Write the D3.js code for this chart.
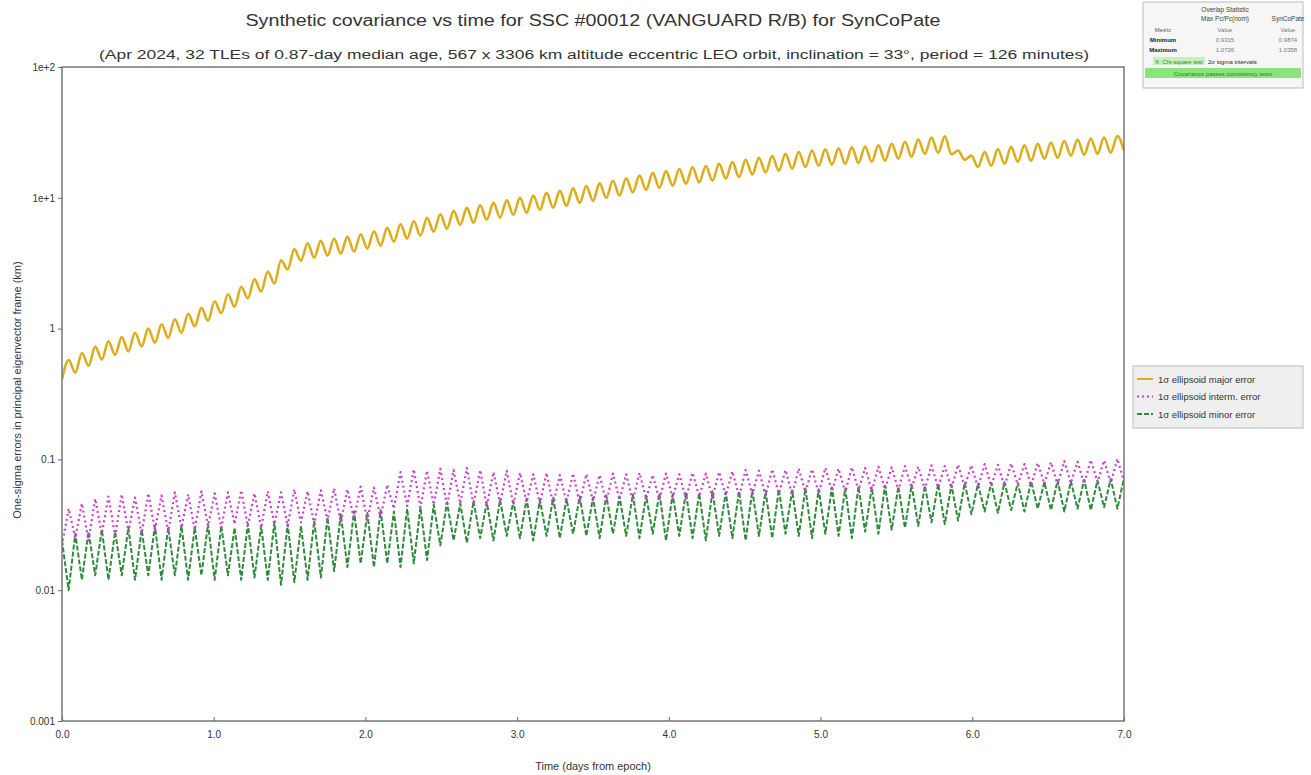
<!DOCTYPE html>
<html>
<head>
<meta charset="utf-8">
<script src="https://cdn.jsdelivr.net/npm/d3@7"></script>
<style>
  body { margin: 0; background: #fff; }
  svg { font-family: "Liberation Sans", Arial, sans-serif; }
  .axis text { fill: #333; font-size: 10px; }
  .axis path, .axis line { stroke: #666; }
</style>
</head>
<body>
<div id="chart"></div>
<script>
/* Synthetic covariance vs time — log-scale line chart */

const PERIOD_DAYS = 0.0875;   // 126 minute orbit

const xTicks      = [0, 1, 2, 3, 4, 5, 6, 7];
const yTicks      = [0.001, 0.01, 0.1, 1, 10, 100];
const yTickLabels = ["0.001", "0.01", "0.1", "1", "1e+1", "1e+2"];

// major error: value at start of each orbit (81) and at mid orbit (80)
const majorLo = [
  0.41, 0.46, 0.52, 0.58, 0.63, 0.67, 0.73, 0.78, 0.85, 0.93,
  1.04, 1.15, 1.31, 1.47, 1.70, 1.92, 2.21, 2.83, 3.31, 3.49,
  3.61, 3.74, 3.88, 4.09, 4.31, 4.62, 4.87, 5.13, 5.51, 5.80,
  6.23, 6.45, 6.80, 7.05, 7.42, 7.70, 8.10, 8.40, 8.70, 9.14,
  9.48, 10.0, 10.4, 11.0, 11.5, 11.9, 12.4, 12.8, 13.1, 13.5,
  14.0, 14.4, 15.1, 15.6, 16.1, 16.7, 17.2, 17.6, 17.9, 18.2,
  18.5, 18.9, 19.2, 19.9, 20.6, 21.7, 22.1, 21.5, 19.5, 17.2,
  17.6, 18.2, 18.9, 19.2, 19.9, 20.2, 21.0, 21.3, 21.7, 22.1,
  22.9
];
const majorHi = [
  0.575, 0.65, 0.73, 0.80, 0.86, 0.93, 1.00, 1.08, 1.18, 1.30,
  1.44, 1.62, 1.83, 2.09, 2.39, 2.73, 3.33, 4.05, 4.49, 4.69,
  4.86, 5.04, 5.27, 5.55, 5.90, 6.27, 6.61, 7.03, 7.48, 7.95,
  8.38, 8.76, 9.15, 9.56, 9.99, 10.4, 10.9, 11.3, 11.8, 12.3,
  12.9, 13.5, 14.1, 14.8, 15.5, 16.0, 16.6, 17.1, 17.5, 18.2,
  18.8, 19.5, 20.2, 20.9, 21.7, 22.4, 23.0, 23.5, 23.9, 24.3,
  24.7, 25.2, 25.9, 26.8, 27.9, 28.9, 29.5, 23.0, 21.0, 22.4,
  23.6, 24.5, 25.2, 25.9, 26.5, 27.2, 27.9, 28.4, 28.9, 29.7
];

// intermediate error: per-orbit upper and lower values
const intermHi = [
  0.042, 0.046, 0.050, 0.052, 0.054, 0.051, 0.055, 0.053, 0.056, 0.054,
  0.057, 0.055, 0.056, 0.058, 0.055, 0.057, 0.056, 0.059, 0.057, 0.058,
  0.060, 0.059, 0.062, 0.061, 0.064, 0.080, 0.084, 0.082, 0.085, 0.083,
  0.086, 0.083, 0.080, 0.082, 0.079, 0.077, 0.079, 0.076, 0.078, 0.077,
  0.076, 0.078, 0.077, 0.079, 0.076, 0.078, 0.077, 0.079, 0.078, 0.080,
  0.081, 0.083, 0.082, 0.084, 0.083, 0.085, 0.084, 0.086, 0.085, 0.087,
  0.086, 0.088, 0.087, 0.089, 0.088, 0.090, 0.089, 0.091, 0.090, 0.092,
  0.091, 0.093, 0.092, 0.094, 0.095, 0.097, 0.096, 0.099, 0.098, 0.101
];
const intermLo = [
  0.022, 0.025, 0.024, 0.027, 0.026, 0.028, 0.027, 0.029, 0.028, 0.030,
  0.029, 0.031, 0.030, 0.032, 0.031, 0.030, 0.032, 0.031, 0.033, 0.032,
  0.034, 0.033, 0.035, 0.034, 0.036, 0.042, 0.044, 0.043, 0.045, 0.044,
  0.046, 0.045, 0.044, 0.046, 0.045, 0.047, 0.046, 0.045, 0.047, 0.046,
  0.048, 0.047, 0.049, 0.048, 0.050, 0.049, 0.051, 0.050, 0.052, 0.051,
  0.053, 0.052, 0.054, 0.053, 0.055, 0.054, 0.056, 0.055, 0.057, 0.056,
  0.058, 0.057, 0.059, 0.058, 0.060, 0.059, 0.061, 0.060, 0.062, 0.061,
  0.063, 0.062, 0.064, 0.063, 0.065, 0.064, 0.066, 0.065, 0.067, 0.066,
  0.068
];

// minor error: per-orbit plateau and dip
const minorHi = [
  0.024, 0.027, 0.028, 0.029, 0.028, 0.030, 0.029, 0.031, 0.030, 0.031,
  0.030, 0.032, 0.031, 0.030, 0.032, 0.031, 0.033, 0.032, 0.031, 0.034,
  0.036, 0.038, 0.040, 0.039, 0.041, 0.040, 0.042, 0.043, 0.045, 0.047,
  0.046, 0.048, 0.047, 0.049, 0.048, 0.050, 0.049, 0.051, 0.050, 0.052,
  0.051, 0.053, 0.052, 0.054, 0.053, 0.055, 0.054, 0.056, 0.055, 0.057,
  0.056, 0.057, 0.058, 0.057, 0.059, 0.058, 0.060, 0.059, 0.061, 0.060,
  0.062, 0.061, 0.063, 0.062, 0.064, 0.063, 0.065, 0.064, 0.066, 0.065,
  0.066, 0.067, 0.066, 0.068, 0.067, 0.069, 0.068, 0.070, 0.069, 0.071,
  0.072
];
const minorLo = [
  0.010, 0.012, 0.013, 0.012, 0.013, 0.012, 0.013, 0.012, 0.013, 0.012,
  0.013, 0.012, 0.013, 0.012, 0.0125, 0.012, 0.011, 0.0115, 0.012, 0.0125,
  0.014, 0.015, 0.016, 0.015, 0.016, 0.015, 0.016, 0.017, 0.022, 0.024,
  0.023, 0.025, 0.024, 0.026, 0.025, 0.024, 0.026, 0.025, 0.027, 0.026,
  0.025, 0.027, 0.026, 0.025, 0.027, 0.024, 0.026, 0.025, 0.024, 0.026,
  0.025, 0.024, 0.026, 0.025, 0.027, 0.026, 0.025, 0.027, 0.026, 0.025,
  0.028, 0.027, 0.029, 0.030, 0.031, 0.033, 0.032, 0.034, 0.038, 0.040,
  0.039, 0.041, 0.040, 0.042, 0.041, 0.040, 0.042, 0.041, 0.043, 0.042
];

const legendLabels = [
  "1σ ellipsoid major error",
  "1σ ellipsoid interm. error",
  "1σ ellipsoid minor error"
];

const W = 1311, H = 775;
const M = { left: 62, right: 1124, top: 67, bottom: 721 };

const svg = d3.select("#chart").append("svg")
  .attr("width", W).attr("height", H);

svg.append("rect").attr("width", W).attr("height", H).attr("fill", "#fff");

const x = d3.scaleLinear().domain([0, 7]).range([M.left, M.right]);
const y = d3.scaleLog().domain([0.001, 100]).range([M.bottom, M.top]);

// series built from orbit-start values (at k*P) and the second array (at (k+.5)*P)
function zigzag(startVals, midVals) {
  const pts = [];
  const n = Math.max(startVals.length, midVals.length);
  for (let k = 0; k < n; k++) {
    if (k < startVals.length) pts.push({ t: k * PERIOD_DAYS, v: startVals[k] });
    if (k < midVals.length)   pts.push({ t: (k + 0.5) * PERIOD_DAYS, v: midVals[k] });
  }
  return pts;
}

const series = [
  { name: legendLabels[0], pts: zigzag(majorLo, majorHi),   color: "#dcae1d", width: 2.6, dash: null,  curve: d3.curveMonotoneX },
  { name: legendLabels[1], pts: zigzag(intermLo, intermHi), color: "#c93fcf", width: 2.2, dash: "2,3", curve: d3.curveLinear },
  { name: legendLabels[2], pts: zigzag(minorHi, minorLo),   color: "#2f8a3c", width: 2.0, dash: "5,2", curve: d3.curveLinear }
];

// Titles
svg.append("text")
  .attr("x", 593).attr("y", 26)
  .attr("text-anchor", "middle")
  .attr("font-size", 16).attr("fill", "#333")
  .attr("textLength", 695).attr("lengthAdjust", "spacingAndGlyphs")
  .text("Synthetic covariance vs time for SSC #00012 (VANGUARD R/B) for SynCoPate");

svg.append("text")
  .attr("x", 594).attr("y", 59)
  .attr("text-anchor", "middle")
  .attr("font-size", 12.5).attr("fill", "#333")
  .attr("textLength", 990).attr("lengthAdjust", "spacingAndGlyphs")
  .text("(Apr 2024,  32 TLEs of 0.87-day median age, 567 x 3306 km altitude eccentric LEO orbit, inclination = 33°, period = 126 minutes)");

// Lines (clipped to plot)
svg.append("clipPath").attr("id", "clip")
  .append("rect")
  .attr("x", M.left).attr("y", M.top)
  .attr("width", M.right - M.left).attr("height", M.bottom - M.top);

const g = svg.append("g").attr("clip-path", "url(#clip)");

// draw minor first, major on top
[series[2], series[1], series[0]].forEach(s => {
  const line = d3.line().x(d => x(d.t)).y(d => y(d.v)).curve(s.curve);
  g.append("path")
    .datum(s.pts)
    .attr("fill", "none")
    .attr("stroke", s.color)
    .attr("stroke-width", s.width)
    .attr("stroke-dasharray", s.dash)
    .attr("stroke-linejoin", "round")
    .attr("d", line);
});

// Frame
svg.append("rect")
  .attr("x", M.left).attr("y", M.top)
  .attr("width", M.right - M.left).attr("height", M.bottom - M.top)
  .attr("fill", "none").attr("stroke", "#777").attr("stroke-width", 1.5);

// Axes
svg.append("g").attr("class", "axis")
  .attr("transform", `translate(${M.left},0)`)
  .call(d3.axisLeft(y).tickValues(yTicks).tickSize(4).tickPadding(3)
    .tickFormat((d, i) => yTickLabels[i]))
  .call(a => a.select(".domain").remove());

svg.append("g").attr("class", "axis")
  .attr("transform", `translate(0,${M.bottom})`)
  .call(d3.axisBottom(x).tickValues(xTicks).tickSizeInner(-4).tickSizeOuter(0).tickPadding(10)
    .tickFormat(d3.format(".1f")))
  .call(a => a.select(".domain").remove());

// Axis labels
svg.append("text")
  .attr("x", 593).attr("y", 770)
  .attr("text-anchor", "middle")
  .attr("font-size", 11).attr("fill", "#333")
  .text("Time (days from epoch)");

svg.append("text")
  .attr("transform", "translate(21,390) rotate(-90)")
  .attr("text-anchor", "middle")
  .attr("font-size", 11).attr("fill", "#333")
  .text("One-sigma errors in principal eigenvector frame (km)");

// Legend
const lg = svg.append("g").attr("transform", "translate(1133,366)");
lg.append("rect")
  .attr("width", 170).attr("height", 62)
  .attr("fill", "#efefef").attr("stroke", "#bbb");
series.forEach((s, i) => {
  const yy = 13 + i * 17.5;
  lg.append("line")
    .attr("x1", 4).attr("x2", 20).attr("y1", yy).attr("y2", yy)
    .attr("stroke", s.color).attr("stroke-width", 2)
    .attr("stroke-dasharray", s.dash);
  lg.append("text")
    .attr("x", 25).attr("y", yy + 3.5)
    .attr("font-size", 9.5).attr("fill", "#333")
    .text(s.name);
});

// Overlap statistics table (top right)
const tableHeader = ["Overlap Statistic", "Max Pc/Pc(nom)", "SynCoPate"];
const tableRows = [
  ["Metric", "Value", "Value"],
  ["Minimum", "0.9315", "0.9874"],
  ["Maximum", "1.0726", "1.0358"]
];
const tb = svg.append("g").attr("transform", "translate(1143,2)");
tb.append("rect").attr("width", 160).attr("height", 86)
  .attr("fill", "#f6f6f6").attr("stroke", "#bbb");
tb.append("text").attr("x", 82).attr("y", 10).attr("text-anchor", "middle")
  .attr("font-size", 6.5).attr("fill", "#444").text(tableHeader[0]);
tb.append("text").attr("x", 82).attr("y", 19).attr("text-anchor", "middle")
  .attr("font-size", 6.5).attr("fill", "#444").text(tableHeader[1]);
tb.append("text").attr("x", 145).attr("y", 19).attr("text-anchor", "middle")
  .attr("font-size", 6.5).attr("fill", "#444").text(tableHeader[2]);
tableRows.forEach((r, i) => {
  const yy = 30 + i * 10;
  tb.append("text").attr("x", 20).attr("y", yy).attr("text-anchor", "middle")
    .attr("font-size", 6).attr("font-weight", i > 0 ? "bold" : "normal")
    .attr("fill", i > 0 ? "#223" : "#555").text(r[0]);
  tb.append("text").attr("x", 82).attr("y", yy).attr("text-anchor", "middle")
    .attr("font-size", 6).attr("fill", "#777").text(r[1]);
  tb.append("text").attr("x", 145).attr("y", yy).attr("text-anchor", "middle")
    .attr("font-size", 6).attr("fill", "#777").text(r[2]);
});
tb.append("rect").attr("x", 10).attr("y", 55).attr("width", 52).attr("height", 8).attr("fill", "#c9f0c0");
tb.append("text").attr("x", 12).attr("y", 62)
  .attr("font-size", 6).attr("fill", "#2a8a2a").text("X: Chi-square test");
tb.append("text").attr("x", 65).attr("y", 62)
  .attr("font-size", 6).attr("fill", "#222").text("2σ sigma intervals");
tb.append("rect").attr("x", 2).attr("y", 66).attr("width", 156).attr("height", 10).attr("fill", "#8fe07f");
tb.append("text").attr("x", 80).attr("y", 74).attr("text-anchor", "middle")
  .attr("font-size", 6).attr("fill", "#2f7a2f").text("Covariance passes consistency tests");
</script>
</body>
</html>
